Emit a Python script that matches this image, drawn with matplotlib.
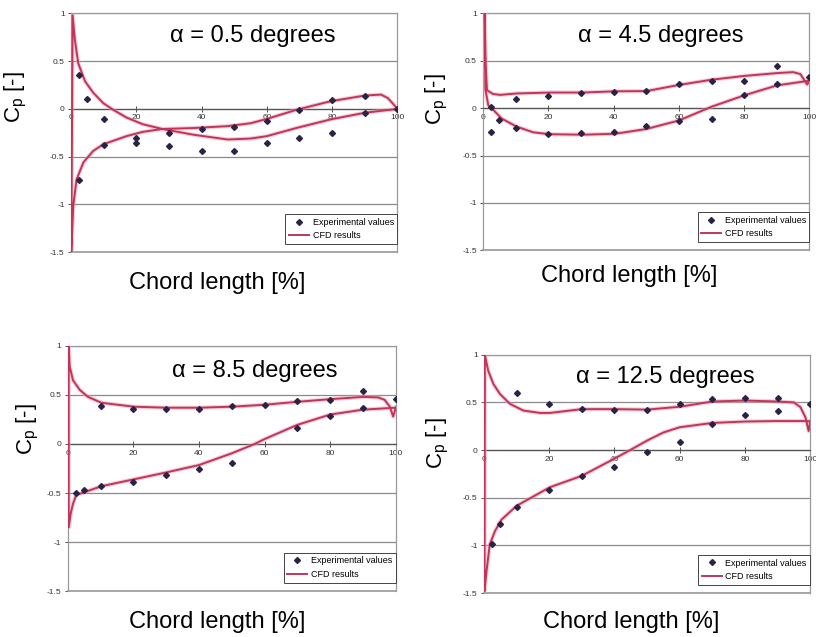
import matplotlib
matplotlib.use('Agg')
import matplotlib.pyplot as plt

plt.rcParams['font.family'] = ['Liberation Sans', 'DejaVu Sans']

# angles of attack
alphas = ['0.5', '4.5', '8.5', '12.5']

# experimental Cp values (both surfaces mixed, as plotted)
exp_x_05 = [2.5, 2.5, 5, 10, 10, 20, 20, 30, 30, 40, 40, 50, 50, 60, 60, 70, 70, 80, 80, 90, 90, 100]
exp_y_05 = [0.36, -0.74, 0.10, -0.11, -0.38, -0.30, -0.355, -0.25, -0.39, -0.21, -0.44,
            -0.19, -0.44, -0.13, -0.36, -0.01, -0.30, 0.09, -0.25, 0.14, -0.04, 0.0]

exp_x_45 = [2.5, 2.5, 5, 10, 10, 20, 20, 30, 30, 40, 40, 50, 50, 60, 60, 70, 70, 80, 80, 90, 90, 100]
exp_y_45 = [-0.25, 0.01, -0.12, 0.10, -0.21, 0.13, -0.275, 0.155, -0.26, 0.17, -0.25,
            0.18, -0.19, 0.26, -0.14, 0.29, -0.11, 0.29, 0.14, 0.44, 0.26, 0.33]

exp_x_85 = [2.5, 5, 10, 10, 20, 20, 30, 30, 40, 40, 50, 50, 60, 70, 70, 80, 80, 90, 90, 100]
exp_y_85 = [-0.50, -0.47, 0.39, -0.43, 0.355, -0.385, 0.355, -0.315, 0.355, -0.26,
            0.39, -0.19, 0.40, 0.44, 0.16, 0.45, 0.286, 0.545, 0.37, 0.457]

exp_x_125 = [2.5, 5, 10, 10, 20, 20, 30, 30, 40, 40, 50, 50, 60, 60, 70, 70, 80, 80, 90, 90, 100]
exp_y_125 = [-0.99, -0.78, -0.60, 0.60, 0.48, -0.42, 0.43, -0.27, 0.42, -0.18, 0.425,
             -0.025, 0.48, 0.09, 0.535, 0.27, 0.545, 0.37, 0.545, 0.41, 0.48]

# CFD results, one branch per surface, leading edge -> trailing edge
cfd_xa_05 = [0.5, 1.2, 2.2, 4.3, 6.8, 9.9, 13, 17, 22, 28, 37.5, 48, 55, 60, 69, 79.5, 90, 100]
cfd_ya_05 = [0.98, 0.72, 0.48, 0.29, 0.17, 0.06, -0.01, -0.09, -0.16, -0.21, -0.27, -0.32,
             -0.31, -0.285, -0.2, -0.11, -0.04, 0.0]
cfd_xb_05 = [0.1, 0.7, 1.7, 3.8, 6.8, 9.9, 17, 22, 28, 37.5, 48, 55, 60, 69, 79.5, 90, 95, 97, 98.5, 100]
cfd_yb_05 = [-1.5, -1.01, -0.74, -0.56, -0.44, -0.37, -0.285, -0.24, -0.21, -0.2, -0.18,
             -0.15, -0.105, -0.01, 0.08, 0.14, 0.15, 0.115, 0.06, 0.0]

cfd_xa_45 = [0.5, 0.8, 1.2, 3, 5.2, 10.3, 20.5, 30.7, 40.5, 50, 60, 70, 80, 90, 95, 97.2, 99.3, 100]
cfd_ya_45 = [1.0, 0.45, 0.19, 0.15, 0.14, 0.155, 0.165, 0.165, 0.178, 0.18, 0.245, 0.30,
             0.34, 0.37, 0.38, 0.36, 0.25, 0.29]
cfd_xb_45 = [0.7, 1.6, 3.2, 5.7, 10.3, 15.4, 20.5, 30.7, 40.5, 50, 60, 70, 80, 90, 100]
cfd_yb_45 = [0.2, 0.03, -0.02, -0.11, -0.195, -0.255, -0.275, -0.28, -0.27, -0.22, -0.13,
             0.015, 0.135, 0.24, 0.29]

cfd_xa_85 = [0.3, 0.6, 1.6, 3.7, 6.2, 10.3, 20.2, 30, 40, 50, 60, 70, 80, 90, 94.6, 96.6, 98.2, 99.2, 100]
cfd_ya_85 = [1.0, 0.79, 0.65, 0.55, 0.48, 0.42, 0.38, 0.37, 0.37, 0.38, 0.40, 0.43, 0.457,
             0.48, 0.475, 0.45, 0.38, 0.28, 0.37]
cfd_xb_85 = [0.3, 0.9, 1.6, 2.6, 5.2, 10.3, 20.2, 30, 40, 50, 57, 60, 70, 80, 90, 100]
cfd_yb_85 = [-0.85, -0.71, -0.61, -0.52, -0.49, -0.43, -0.36, -0.29, -0.215, -0.095, 0.0,
             0.05, 0.195, 0.30, 0.35, 0.37]

cfd_xa_125 = [0.3, 1.3, 2.9, 4.9, 8, 12.1, 17.2, 20.2, 30, 40, 50, 60, 70, 80, 90, 95, 97, 98.5, 99.5, 100]
cfd_ya_125 = [1.0, 0.835, 0.695, 0.59, 0.485, 0.415, 0.39, 0.39, 0.43, 0.43, 0.425, 0.455,
              0.51, 0.52, 0.51, 0.50, 0.45, 0.345, 0.20, 0.30]
cfd_xb_125 = [0.2, 0.8, 1.8, 3.4, 5.4, 10, 20.2, 30, 39.7, 44.8, 50, 55, 60, 70, 80, 90, 98.5, 100]
cfd_yb_125 = [-1.48, -1.27, -0.99, -0.85, -0.73, -0.585, -0.39, -0.27, -0.095, 0.0, 0.10,
              0.185, 0.24, 0.285, 0.30, 0.305, 0.305, 0.30]

xticks = [0, 20, 40, 60, 80, 100]
yticks = [-1.5, -1, -0.5, 0, 0.5, 1]
ytick_labels = ['-1.5', '-1', '-0.5', '0', '0.5', '1']

exp_data = [(exp_x_05, exp_y_05), (exp_x_45, exp_y_45), (exp_x_85, exp_y_85), (exp_x_125, exp_y_125)]
cfd_data = [(cfd_xa_05, cfd_ya_05, cfd_xb_05, cfd_yb_05),
            (cfd_xa_45, cfd_ya_45, cfd_xb_45, cfd_yb_45),
            (cfd_xa_85, cfd_ya_85, cfd_xb_85, cfd_yb_85),
            (cfd_xa_125, cfd_ya_125, cfd_xb_125, cfd_yb_125)]

# layout: axes rect, title pos, ylabel pos, xlabel pos (axes coords)
layout = [
    ([0.087, 0.604, 0.400, 0.375], (0.558, 0.904), (-0.169, 0.65), (0.448, -0.13)),
    ([0.592, 0.607, 0.400, 0.372], (0.543, 0.903), (-0.140, 0.64), (0.448, -0.11)),
    ([0.083, 0.072, 0.402, 0.385], (0.570, 0.898), (-0.120, 0.66), (0.457, -0.127)),
    ([0.593, 0.069, 0.400, 0.374], (0.555, 0.908), (-0.140, 0.63), (0.451, -0.122)),
]

line_col = '#c3345a'
mark_col = '#2b2248'

fig = plt.figure(figsize=(8.16, 6.37), dpi=100)

for i in range(4):
    rect, tpos, ypos, xpos = layout[i]
    ax = fig.add_axes(rect)
    ex, ey = exp_data[i]
    xa, ya, xb, yb = cfd_data[i]

    # one line: trailing edge -> leading edge along one surface, then back along the other
    cx = xa[::-1] + xb
    cy = ya[::-1] + yb
    ax.plot(cx, cy, color='#e8a0b0', lw=3.0, alpha=0.5, zorder=3)
    ax.plot(ex, ey, 'D', color=mark_col, ms=3.0, ls='none', zorder=5, label='Experimental values')
    ax.plot(cx, cy, color=line_col, lw=1.4, zorder=4, label='CFD results')

    ax.set_xlim(0, 100)
    ax.set_ylim(-1.5, 1)

    # excel style: horizontal axis crosses at zero
    for s in ['top', 'right', 'left']:
        ax.spines[s].set_color('#999999')
        ax.spines[s].set_linewidth(0.9)
    ax.spines['bottom'].set_position(('data', 0))
    ax.spines['bottom'].set_color('#555555')
    ax.spines['bottom'].set_linewidth(0.9)
    ax.axhline(-1.5, color='#999999', lw=1.2, clip_on=False, zorder=2)

    ax.set_yticks(yticks)
    ax.set_yticklabels(ytick_labels)
    ax.set_xticks(xticks)
    ax.set_xticklabels([str(t) for t in xticks])
    ax.tick_params(axis='both', labelsize=6, colors='#333333', length=2.5, width=0.6, pad=2)
    ax.tick_params(axis='x', direction='inout', length=4)
    ax.yaxis.grid(True, color='#8a8a8a', lw=0.9)
    ax.set_axisbelow(True)

    ax.text(tpos[0], tpos[1], '\u03b1 = ' + alphas[i] + ' degrees', transform=ax.transAxes,
            ha='center', va='center', fontsize=17)
    ax.text(ypos[0], ypos[1], 'C$_\\mathregular{p}$ [-]', transform=ax.transAxes,
            rotation=90, ha='center', va='center', fontsize=16)
    ax.text(xpos[0], xpos[1], 'Chord length [%]', transform=ax.transAxes,
            ha='center', va='center', fontsize=17)

    leg = ax.legend(loc='lower right', bbox_to_anchor=(1.0, 0.035), borderaxespad=0,
                    fontsize=6.5, fancybox=False, framealpha=1, handlelength=2.2,
                    borderpad=0.4, labelspacing=0.5, handletextpad=0.4)
    leg.get_frame().set_edgecolor('#444444')
    leg.get_frame().set_linewidth(0.7)

fig.savefig('out.png', dpi=100)
